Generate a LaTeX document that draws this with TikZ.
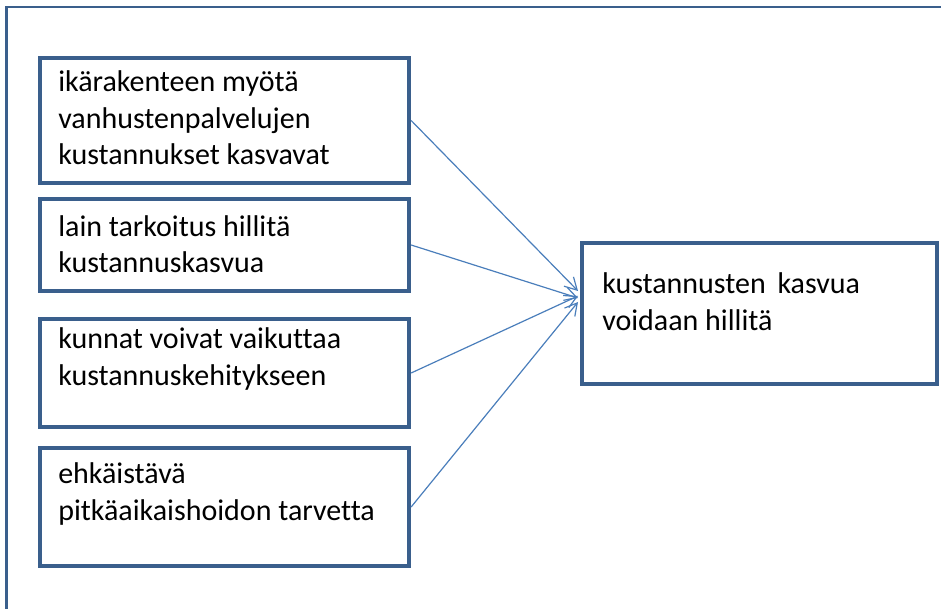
\documentclass[tikz,border=0pt]{standalone}
\usepackage{fontspec}
\setmainfont{Carlito}[Ligatures=NoCommon]
\usetikzlibrary{arrows.meta}
\definecolor{boxblue}{HTML}{3A5F8C}
\definecolor{lineblue}{HTML}{4A7EBB}

\begin{document}
\begin{tikzpicture}[x=0.75pt,y=-0.75pt,
    box/.style={draw=boxblue, line width=3.2pt, inner sep=0pt},
    txt/.style={anchor=base west, align=left, inner sep=0pt, font=\fontsize{22.5}{27.5}\selectfont},
    arr/.style={draw=lineblue, line width=0.9pt, -{Straight Barb[length=9pt,width=10pt]}}]
  \useasboundingbox (0,0) rectangle (941,609);
  \draw[boxblue, line width=1.8pt] (6.5,615) -- (6.5,7) -- (950,7); %frame
  % left boxes
  \node[box, minimum width=276.75pt, minimum height=93.75pt] (b1) at (224.5,120.5) {};
  \node[box, minimum width=276.75pt, minimum height=69pt] (b2) at (224.5,245) {};
  \node[box, minimum width=276.75pt, minimum height=81pt] (b3) at (224.5,373) {};
  \node[box, minimum width=276.75pt, minimum height=88.5pt] (b4) at (224.5,507) {};
  \node[txt] (t1) at (58,165) {ikärakenteen myötä\\vanhustenpalvelujen\\kustannukset kasvavat}; %last baseline
  \node[txt] (t2) at (58,273) {lain tarkoitus hillitä\\kustannuskasvua};
  \node[txt] (t3) at (58,385) {kunnat voivat vaikuttaa\\kustannuskehitykseen};
  \node[txt] (t4) at (58,520) {ehkäistävä\\pitkäaikaishoidon tarvetta};
  % result
  \node[box, minimum width=266.25pt, minimum height=105.75pt] (res) at (759.5,313.5) {};
  \node[txt] (tr) at (602,330) {kustannusten\, kasvua\\voidaan hillitä};
  \coordinate (tip1) at (578,291);
  \coordinate (tip2) at (578,298);
  \coordinate (tip3) at (578,296);
  \coordinate (tip4) at (578,302);
  \draw[arr] (b1.east) -- (tip1);
  \draw[arr] (b2.east) -- (tip2);
  \draw[arr] (b3.east) -- (tip3);
  \draw[arr] (b4.east) -- (tip4);
\end{tikzpicture}
\end{document}
